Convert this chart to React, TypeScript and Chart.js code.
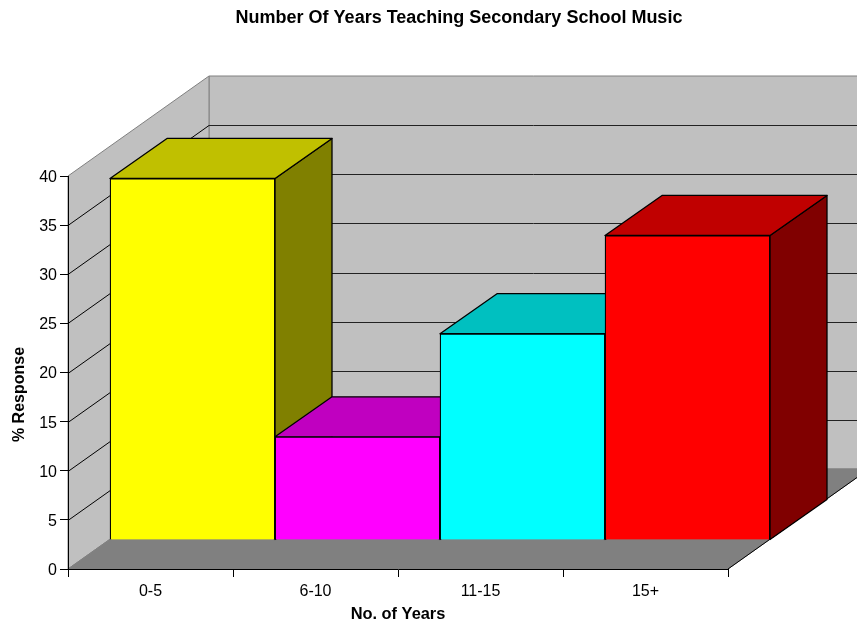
import React, { useEffect, useRef } from "react";
import { Chart, registerables } from "chart.js";

Chart.register(...registerables);

const categories = ["0-5", "6-10", "11-15", "15+"];
const responses = [36.8, 10.5, 21, 31];
const frontColors = ["#FFFF00", "#FF00FF", "#00FFFF", "#FF0000"];
const topColors = ["#C0C000", "#C000C0", "#00C0C0", "#C00000"];
const sideColors = ["#808000", "#800080", "#008080", "#800000"];

const FONT = "'Liberation Sans', Arial, sans-serif";
const WALL_DX = 141;
const WALL_DY = -100;
const BAR_DX = 42;
const BAR_DY = -29;
const BAR_DEPTH_X = 57;
const BAR_DEPTH_Y = -40;
const EDGE = 1.3;

function poly(ctx: CanvasRenderingContext2D, pts: number[][], fill: string | null, stroke: string | null, width = 1) {
  ctx.beginPath();
  pts.forEach((p, i) => (i ? ctx.lineTo(p[0], p[1]) : ctx.moveTo(p[0], p[1])));
  ctx.closePath();
  if (fill) {
    ctx.fillStyle = fill;
    ctx.fill();
  }
  if (stroke) {
    ctx.strokeStyle = stroke;
    ctx.lineWidth = width;
    ctx.stroke();
  }
}

function line(ctx: CanvasRenderingContext2D, a: number[], b: number[], color: string) {
  ctx.beginPath();
  ctx.moveTo(a[0], a[1]);
  ctx.lineTo(b[0], b[1]);
  ctx.strokeStyle = color;
  ctx.lineWidth = 1;
  ctx.stroke();
}

const box3d = {
  id: "box3d",
  afterLayout(chart: any) {
    const tb = chart.titleBlock;
    if (tb) {
      tb.left = 59;
      tb.right = 859;
    }
    const y = chart.scales.y;
    const orig = Object.getPrototypeOf(y).drawTitle;
    y.drawTitle = function () {
      const t = this.top;
      const b = this.bottom;
      this.top = t + 22;
      this.bottom = b + 22;
      orig.call(this);
      this.top = t;
      this.bottom = b;
    };
  },
  beforeDraw(chart: any) {
    const { ctx, chartArea: a, scales } = chart;
    const y = scales.y;
    const l = a.left;
    const r = a.right;
    const t = y.getPixelForValue(y.max);
    const b = y.getPixelForValue(y.min);
    ctx.save();
    // back wall
    poly(ctx, [[l + WALL_DX, t + WALL_DY], [r + WALL_DX, t + WALL_DY], [r + WALL_DX, b + WALL_DY], [l + WALL_DX, b + WALL_DY]], "#C0C0C0", "#808080");
    // left wall
    poly(ctx, [[l, t], [l + WALL_DX, t + WALL_DY], [l + WALL_DX, b + WALL_DY], [l, b]], "#C0C0C0", "#808080");
    // floor
    poly(ctx, [[l, b], [l + WALL_DX, b + WALL_DY], [r + WALL_DX, b + WALL_DY], [r, b]], "#808080", "#808080");
    line(ctx, [r, b], [r + WALL_DX, b + WALL_DY], "#000000");
    // gridlines on both walls
    y.ticks.forEach((tick: any) => {
      if (tick.value === y.min || tick.value === y.max) return;
      const py = Math.round(y.getPixelForValue(tick.value)) + 0.5;
      line(ctx, [l, py], [l + WALL_DX, py + WALL_DY], "#000000");
      line(ctx, [l + WALL_DX, py + WALL_DY], [r + WALL_DX, py + WALL_DY], "#222222");
    });
    ctx.restore();
  },
  beforeDatasetsDraw(chart: any) {
    const { ctx } = chart;
    const bars = chart.getDatasetMeta(0).data;
    ctx.save();
    ctx.lineJoin = "round";
    bars.forEach((bar: any, i: number) => {
      const x0 = bar.x - bar.width / 2 + BAR_DX;
      const x1 = bar.x + bar.width / 2 + BAR_DX;
      const yt = bar.y + BAR_DY;
      const yb = bar.base + BAR_DY;
      poly(ctx, [[x1, yt], [x1 + BAR_DEPTH_X, yt + BAR_DEPTH_Y], [x1 + BAR_DEPTH_X, yb + BAR_DEPTH_Y], [x1, yb]], sideColors[i], "#000000", EDGE);
      poly(ctx, [[x0, yt], [x0 + BAR_DEPTH_X, yt + BAR_DEPTH_Y], [x1 + BAR_DEPTH_X, yt + BAR_DEPTH_Y], [x1, yt]], topColors[i], "#000000", EDGE);
    });
    ctx.restore();
    ctx.save();
    ctx.translate(BAR_DX, BAR_DY);
  },
  afterDatasetsDraw(chart: any) {
    chart.ctx.restore();
  },
};

export default function App() {
  const ref = useRef<HTMLCanvasElement>(null);
  useEffect(() => {
    document.body.style.margin = "0";
    const chart = new Chart(ref.current as HTMLCanvasElement, {
      type: "bar",
      data: {
        labels: categories,
        datasets: [
          {
            label: "% Response",
            data: responses,
            backgroundColor: frontColors,
            borderColor: "#000000",
            borderWidth: 1.3,
            barPercentage: 1,
            categoryPercentage: 1,
            clip: false,
          } as any,
        ],
      },
      options: {
        responsive: false,
        animation: false,
        layout: { padding: { left: 10, right: 129, top: 0, bottom: 2 } },
        plugins: {
          legend: { display: false },
          tooltip: { enabled: false },
          title: {
            display: true,
            text: "Number Of Years Teaching Secondary School Music",
            color: "#000000",
            font: { family: FONT, size: 18, weight: "bold", lineHeight: 1.2 },
            padding: { top: 7, bottom: 147.4 },
          },
        },
        scales: {
          x: {
            grid: { drawOnChartArea: false, drawTicks: true, tickLength: 8, color: "#000000" },
            border: { display: true, color: "#000000" },
            ticks: { color: "#000000", font: { family: FONT, size: 16 }, padding: 5, maxRotation: 0 },
            title: { display: true, text: "No. of Years", color: "#000000", font: { family: FONT, size: 16.4, weight: "bold", lineHeight: 1.2 }, padding: 0 },
            afterFit: (s: any) => {
              s.height = 55;
            },
          },
          y: {
            min: 0,
            max: 40,
            grid: { drawOnChartArea: false, drawTicks: true, tickLength: 8, color: "#000000" },
            border: { display: true, color: "#000000" },
            ticks: { stepSize: 5, color: "#000000", font: { family: FONT, size: 16 }, padding: 3, labelOffset: 1.5 },
            title: { display: true, text: "% Response", color: "#000000", font: { family: FONT, size: 16, weight: "bold", lineHeight: 1.2 }, padding: 0 },
            afterFit: (s: any) => {
              s.width = 58;
            },
          },
        },
      },
      plugins: [box3d],
    } as any);
    return () => chart.destroy();
  }, []);
  return <canvas ref={ref} width={857} height={626} style={{ display: "block" }} />;
}
